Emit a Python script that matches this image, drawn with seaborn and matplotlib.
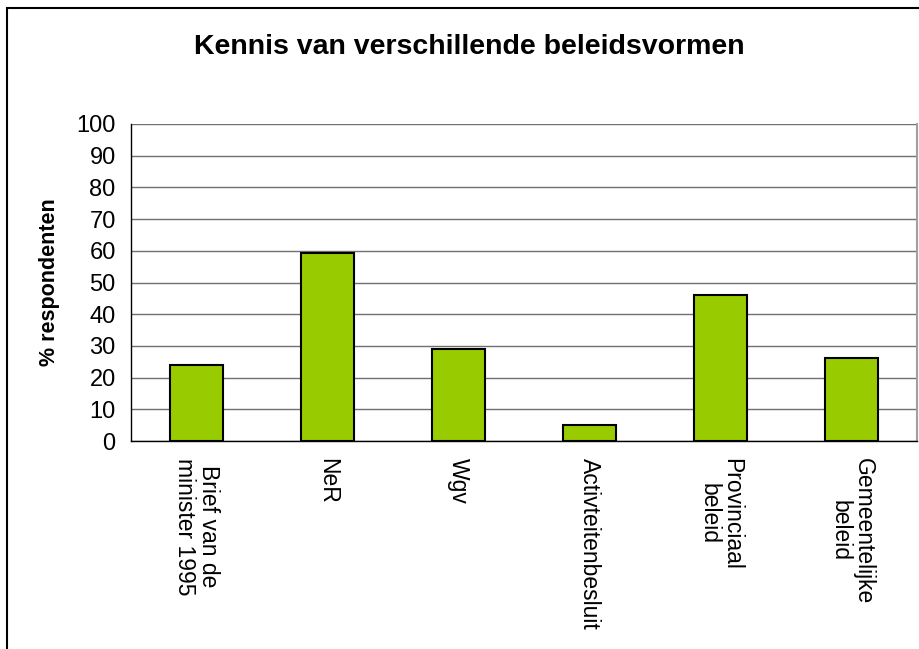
import numpy as np
import pandas as pd
import matplotlib
matplotlib.use("Agg")
import matplotlib.pyplot as plt
import seaborn as sns
from matplotlib.patches import Rectangle

# data
categories = ["Brief van de\nminister 1995", "NeR", "Wgv", "Activteitenbesluit",
              "Provinciaal\nbeleid", "Gemeentelijke\nbeleid"]
values = [24, 59.3, 29, 5, 46, 26.2]
yticks = list(range(0, 101, 10))

df = pd.DataFrame({"beleid": categories, "pct": values})

sns.set_style("white")
plt.rcParams["font.family"] = ["Liberation Sans", "DejaVu Sans"]
plt.rcParams["text.color"] = "black"
plt.rcParams["axes.labelcolor"] = "black"
plt.rcParams["xtick.color"] = "black"
plt.rcParams["ytick.color"] = "black"

fig = plt.figure(figsize=(9.19, 6.49), dpi=100)
ax = fig.add_axes([131 / 919, 1 - 441 / 649, (917 - 131) / 919, (441 - 124) / 649])

sns.barplot(data=df, x="beleid", y="pct", color="#99CC00", saturation=1,
            edgecolor="black", linewidth=1.5, width=0.41, ax=ax)

ax.set_ylim(0, 100)
ax.set_xlim(-0.5, len(categories) - 0.5)
ax.set_yticks(yticks)
ax.set_yticklabels([str(t) for t in yticks], fontsize=17)
ax.yaxis.grid(True, color="#707070", linewidth=1)
ax.set_axisbelow(True)

# ticks between the categories, labels at the centres
ax.set_xticks(range(len(categories)))
ax.set_xticklabels(categories, rotation=270, ha="center", va="top",
                   multialignment="center", fontsize=16.5, linespacing=1.0)
ax.set_xticks(np.arange(-0.5, len(categories), 1), minor=True)
ax.tick_params(axis="x", which="major", length=0, pad=12)
ax.tick_params(axis="x", which="minor", length=5, color="black", width=1, direction="out")
ax.tick_params(axis="y", length=7, color="black", width=1, direction="out", pad=4)

for side in ["left", "bottom"]:
    ax.spines[side].set_color("black")
    ax.spines[side].set_linewidth(1)
ax.spines["top"].set_visible(False)
ax.spines["right"].set_color("#a0a0a0")
ax.spines["right"].set_linewidth(1.5)

ax.set_xlabel("")
ax.set_ylabel("% respondenten", fontsize=15.5, fontweight="bold", labelpad=12)

fig.text(0.511, 1 - 47 / 649, "Kennis van verschillende beleidsvormen",
         ha="center", va="center", fontsize=20.5, fontweight="bold")

# chart frame
fig.add_artist(Rectangle((7 / 919, -0.1), 1.2, 1 - 8 / 649 + 0.1,
                         transform=fig.transFigure, fill=False,
                         edgecolor="black", linewidth=1.5, clip_on=False))

fig.savefig("out.png", dpi=100)
